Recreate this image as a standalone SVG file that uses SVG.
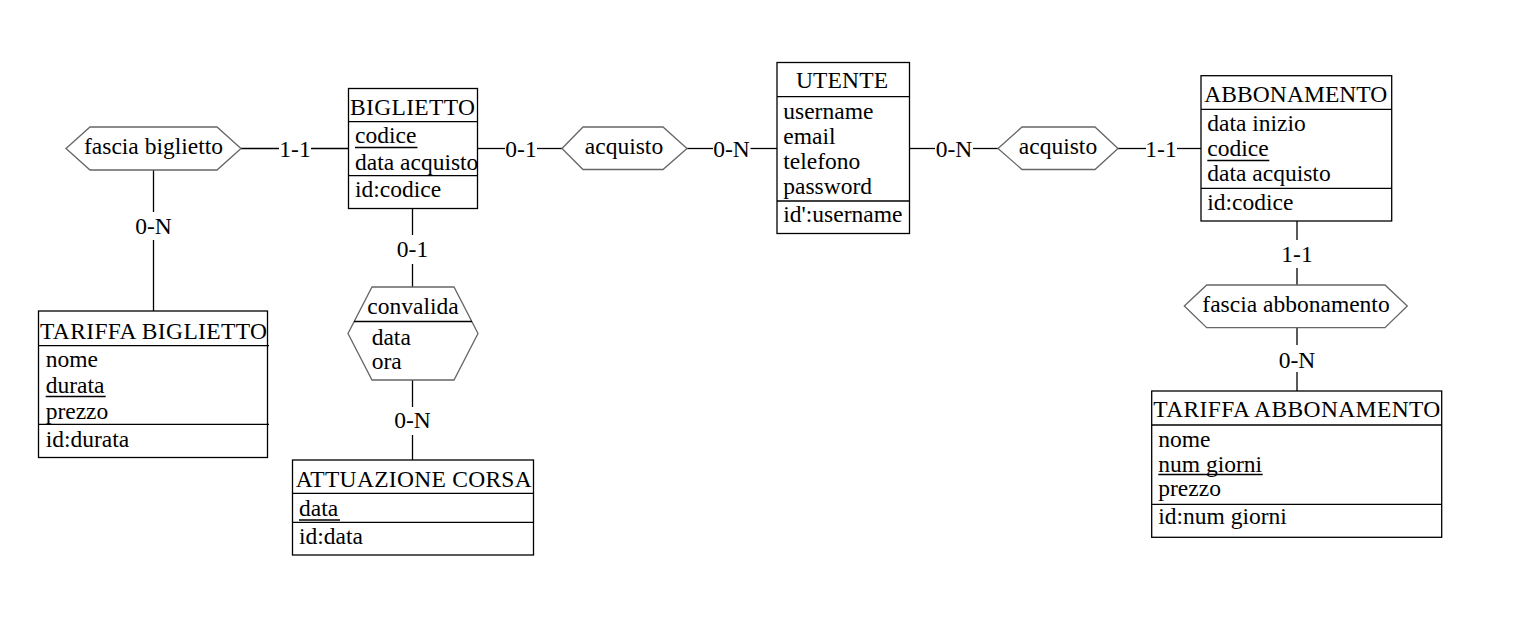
<svg xmlns="http://www.w3.org/2000/svg" width="1526" height="626" viewBox="0 0 1526 626">
<style>
.box{fill:#fff;stroke:#000;stroke-width:1.3}
.hex{fill:#fff;stroke:#666;stroke-width:1.3}
.ln{stroke:#000;stroke-width:1.3;fill:none}
text{font-family:"Liberation Serif","Times New Roman",serif;font-size:23.5px;fill:#000}
.c{text-anchor:middle}
</style>
<rect width="1526" height="626" fill="#fff"/>
<g id="connectors">
<line class="ln" x1="241" y1="148.5" x2="279" y2="148.5"/>
<text class="c" x="295" y="156.5">1-1</text>
<line class="ln" x1="311" y1="148.5" x2="348.5" y2="148.5"/>
<line class="ln" x1="153.5" y1="170" x2="153.5" y2="212"/>
<text class="c" x="153.5" y="233.5">0-N</text>
<line class="ln" x1="153.5" y1="240" x2="153.5" y2="311"/>
<line class="ln" x1="412.5" y1="208.5" x2="412.5" y2="235"/>
<text class="c" x="412.5" y="256.5">0-1</text>
<line class="ln" x1="412.5" y1="264" x2="412.5" y2="287"/>
<line class="ln" x1="412.5" y1="380" x2="412.5" y2="407"/>
<text class="c" x="412.5" y="428">0-N</text>
<line class="ln" x1="412.5" y1="435" x2="412.5" y2="460"/>
<line class="ln" x1="477.5" y1="148.5" x2="505" y2="148.5"/>
<text class="c" x="521" y="156.5">0-1</text>
<line class="ln" x1="537" y1="148.5" x2="562" y2="148.5"/>
<line class="ln" x1="687" y1="148.5" x2="713" y2="148.5"/>
<text class="c" x="731.5" y="156.5">0-N</text>
<line class="ln" x1="750.5" y1="148.5" x2="777" y2="148.5"/>
<line class="ln" x1="909.5" y1="148.5" x2="935" y2="148.5"/>
<text class="c" x="954" y="156.5">0-N</text>
<line class="ln" x1="973" y1="148.5" x2="998" y2="148.5"/>
<line class="ln" x1="1118" y1="148.5" x2="1146" y2="148.5"/>
<text class="c" x="1161" y="156.5">1-1</text>
<line class="ln" x1="1177" y1="148.5" x2="1201" y2="148.5"/>
<line class="ln" x1="1297" y1="221" x2="1297" y2="240"/>
<text class="c" x="1297" y="261.5">1-1</text>
<line class="ln" x1="1297" y1="268" x2="1297" y2="285"/>
<line class="ln" x1="1297" y1="327.5" x2="1297" y2="345"/>
<text class="c" x="1297" y="367.5">0-N</text>
<line class="ln" x1="1297" y1="372" x2="1297" y2="391"/>
</g>
<g id="fascia_biglietto">
<polygon class="hex" points="66,148.5 90,127 217,127 241,148.5 217,170 90,170"/>
<text class="c" x="153.5" y="153.5">fascia biglietto</text>
</g>
<g id="biglietto">
<rect class="box" x="348.5" y="88.5" width="129" height="120"/>
<line class="ln" x1="348.5" y1="121.7" x2="477.5" y2="121.7"/>
<line class="ln" x1="348.5" y1="175.7" x2="477.5" y2="175.7"/>
<text x="350" y="115" textLength="125">BIGLIETTO</text>
<text x="355" y="143">codice</text>
<line class="ln" x1="355" y1="147.5" x2="417.5" y2="147.5"/>
<text x="355" y="170">data acquisto</text>
<text x="355" y="197">id:codice</text>
</g>
<g id="tariffa_biglietto">
<rect class="box" x="38.5" y="311" width="229" height="146.5"/>
<line class="ln" x1="38.5" y1="345.7" x2="269" y2="345.7"/>
<line class="ln" x1="38.5" y1="424.3" x2="269" y2="424.3"/>
<text x="40" y="338.5" textLength="227">TARIFFA BIGLIETTO</text>
<text x="45.7" y="367">nome</text>
<text x="45.7" y="393">durata</text>
<line class="ln" x1="45.7" y1="396.5" x2="105.7" y2="396.5"/>
<text x="45.7" y="418.5">prezzo</text>
<text x="45.7" y="446.7">id:durata</text>
</g>
<g id="convalida">
<polygon class="hex" points="372,287 454,287 478,333.5 454,380 372,380 348,333.5"/>
<line class="ln" x1="354" y1="321.5" x2="472" y2="321.5"/>
<text class="c" x="413" y="314">convalida</text>
<text x="371.7" y="345">data</text>
<text x="371.7" y="368.5">ora</text>
</g>
<g id="attuazione_corsa">
<rect class="box" x="292.5" y="460" width="241" height="95"/>
<line class="ln" x1="292.5" y1="493.3" x2="533.5" y2="493.3"/>
<line class="ln" x1="292.5" y1="522.3" x2="533.5" y2="522.3"/>
<text x="295.7" y="486.7" textLength="236">ATTUAZIONE CORSA</text>
<text x="299" y="515.7">data</text>
<line class="ln" x1="299" y1="520" x2="340" y2="520"/>
<text x="299" y="544">id:data</text>
</g>
<g id="acquisto_biglietto">
<polygon class="hex" points="562,148.5 583,127 663,127 687,148.5 663,169.5 583,169.5"/>
<text class="c" x="624" y="153.5">acquisto</text>
</g>
<g id="utente">
<rect class="box" x="777" y="62.5" width="132.5" height="171"/>
<line class="ln" x1="777" y1="96.7" x2="909.5" y2="96.7"/>
<line class="ln" x1="777" y1="201" x2="909.5" y2="201"/>
<text x="796" y="88.3" textLength="92">UTENTE</text>
<text x="783.3" y="118.5">username</text>
<text x="783.3" y="143.5">email</text>
<text x="783.3" y="168.5">telefono</text>
<text x="783.3" y="193.5">password</text>
<text x="783.3" y="221.7">id':username</text>
</g>
<g id="acquisto_abbonamento">
<polygon class="hex" points="998,148.5 1022,127 1095,127 1118,148.5 1095,169.5 1022,169.5"/>
<text class="c" x="1058" y="153.5">acquisto</text>
</g>
<g id="abbonamento">
<rect class="box" x="1201" y="75.7" width="190.7" height="145.3"/>
<line class="ln" x1="1201" y1="109.3" x2="1391.7" y2="109.3"/>
<line class="ln" x1="1201" y1="188.3" x2="1391.7" y2="188.3"/>
<text x="1204.3" y="101.7" textLength="183">ABBONAMENTO</text>
<text x="1207.3" y="131">data inizio</text>
<text x="1207.3" y="156">codice</text>
<line class="ln" x1="1207.3" y1="160.5" x2="1269.3" y2="160.5"/>
<text x="1207.3" y="181">data acquisto</text>
<text x="1207.3" y="210">id:codice</text>
</g>
<g id="fascia_abbonamento">
<polygon class="hex" points="1184.3,306 1206.7,285 1385,285 1407.3,306 1385,327.7 1206.7,327.7"/>
<text class="c" x="1296" y="311.7">fascia abbonamento</text>
</g>
<g id="tariffa_abbonamento">
<rect class="box" x="1151.7" y="391" width="290" height="146.3"/>
<line class="ln" x1="1151.7" y1="425" x2="1441.7" y2="425"/>
<line class="ln" x1="1151.7" y1="504.3" x2="1441.7" y2="504.3"/>
<text x="1153.3" y="417.3" textLength="287">TARIFFA ABBONAMENTO</text>
<text x="1158.3" y="447">nome</text>
<text x="1158.3" y="471.5">num giorni</text>
<line class="ln" x1="1158.3" y1="474.5" x2="1262.7" y2="474.5"/>
<text x="1158.3" y="496">prezzo</text>
<text x="1158.3" y="524.3">id:num giorni</text>
</g>
</svg>
